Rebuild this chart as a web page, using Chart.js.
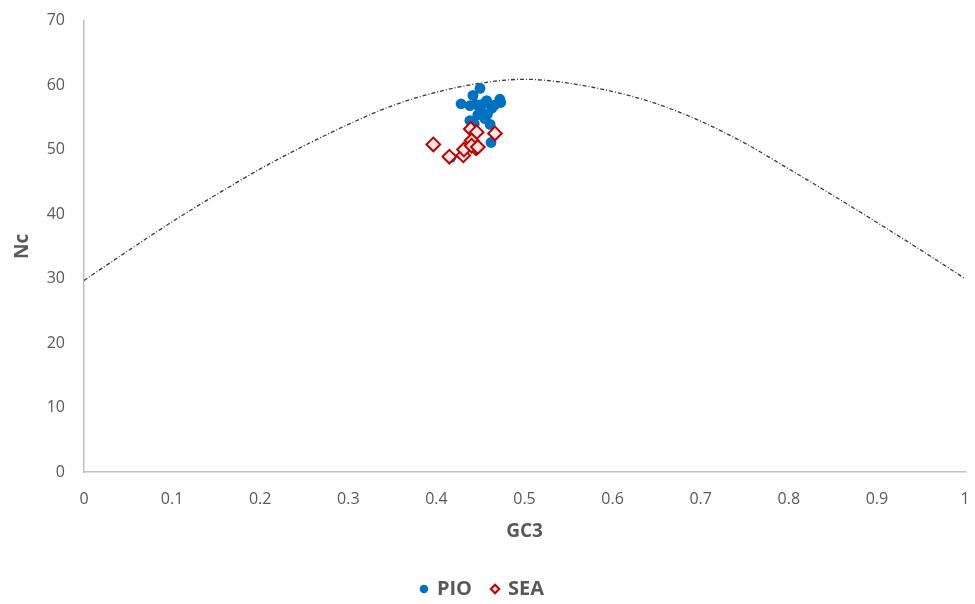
<!DOCTYPE html>
<html>
<head>
<meta charset="utf-8">
<script src="https://cdn.jsdelivr.net/npm/chart.js@4/dist/chart.umd.min.js"></script>
<style>
  html, body { margin: 0; padding: 0; background: #ffffff; }
  #wrap { width: 975px; height: 604px; }
</style>
</head>
<body>
<div id="wrap"><canvas id="chart" width="975" height="604"></canvas></div>
<script>
// GC3 (x) vs Nc (y) for each sample
const pioGC3 = [0.4495, 0.428, 0.472, 0.473, 0.438, 0.4415, 0.457, 0.452, 0.463, 0.447,
                0.458, 0.466, 0.438, 0.443, 0.461, 0.455, 0.462, 0.4165, 0.450, 0.445];
const pioNc  = [59.5, 57.1, 57.8, 57.3, 56.8, 58.4, 57.6, 57.0, 56.4, 55.4,
                55.5, 56.9, 54.5, 54.0, 53.9, 54.8, 51.1, 48.8, 56.0, 57.0];

const seaGC3 = [0.3965, 0.4147, 0.4305, 0.4313, 0.439, 0.4457, 0.440, 0.445, 0.440, 0.4665, 0.447];
const seaNc  = [50.8, 48.9, 49.1, 50.0, 53.2, 52.7, 51.4, 50.2, 50.6, 52.5, 50.4];

// Expected Nc curve, sampled along GC3
const curveGC3 = [0, 0.05, 0.1, 0.15, 0.2, 0.25, 0.3, 0.35, 0.4, 0.45, 0.5,
                  0.55, 0.6, 0.65, 0.7, 0.75, 0.8, 0.85, 0.9, 0.95, 1];
const curveNc  = [29.7, 34.3, 38.8, 43.0, 47.0, 50.6, 53.9, 56.8, 58.9, 60.3, 60.9,
                  60.3, 59.0, 57.1, 54.4, 51.0, 47.0, 42.9, 38.7, 34.4, 30.0];

const xTicks = [0, 0.1, 0.2, 0.3, 0.4, 0.5, 0.6, 0.7, 0.8, 0.9, 1];
const yTicks = [0, 10, 20, 30, 40, 50, 60, 70];

const pair = (xs, ys) => xs.map((x, i) => ({ x: x, y: ys[i] }));

const axisGrey = '#595959';
const fontFamily = '"Open Sans", "Liberation Sans", sans-serif';

new Chart(document.getElementById('chart'), {
  type: 'scatter',
  data: {
    datasets: [
      {
        label: 'PIO',
        data: pair(pioGC3, pioNc),
        pointStyle: 'circle',
        pointRadius: 5.4,
        pointHoverRadius: 5.4,
        backgroundColor: '#0070C0',
        borderColor: '#0070C0',
        borderWidth: 0,
        order: 2
      },
      {
        label: 'SEA',
        data: pair(seaGC3, seaNc),
        pointStyle: 'rectRot',
        pointRadius: 6.8,
        pointHoverRadius: 6.8,
        backgroundColor: '#fbe6e6',
        borderColor: '#C00000',
        borderWidth: 2,
        order: 1
      },
      {
        label: 'expected',
        type: 'line',
        data: pair(curveGC3, curveNc),
        showLine: true,
        tension: 0.4,
        cubicInterpolationMode: 'monotone',
        pointRadius: 0,
        borderColor: '#3a3a3a',
        borderWidth: 1.3,
        borderDash: [4, 2, 1, 2],
        fill: false,
        order: 3
      }
    ]
  },
  options: {
    responsive: false,
    animation: false,
    layout: { autoPadding: false, padding: { top: 18, right: 10, left: 0, bottom: -5 } },
    plugins: {
      tooltip: { enabled: false },
      legend: {
        position: 'bottom',
        labels: {
          filter: (item) => item.text !== 'expected',
          sort: (a, b) => a.datasetIndex - b.datasetIndex,
          usePointStyle: true,
          boxWidth: 6,
          boxHeight: 6,
          padding: 20,
          color: axisGrey,
          font: { family: fontFamily, size: 20, weight: 'bold' }
        }
      }
    },
    scales: {
      x: {
        type: 'linear',
        min: 0,
        max: 1,
        afterBuildTicks: (scale) => { scale.ticks = xTicks.map(v => ({ value: v })); },
        afterFit: (scale) => {
          scale.height = 87;
          scale.paddingLeft = 0;
          scale.paddingRight = 0;
        },
        grid: { display: false },
        border: { display: true, color: '#bfbfbf', width: 1.5 },
        ticks: {
          padding: 10,
          color: axisGrey,
          font: { family: fontFamily, size: 16 },
          callback: (v) => String(v)
        },
        title: {
          display: true,
          text: 'GC3',
          color: axisGrey,
          font: { family: fontFamily, size: 19, weight: 'bold' },
          padding: { top: 4, bottom: 16 }
        }
      },
      y: {
        type: 'linear',
        min: 0,
        max: 70,
        afterBuildTicks: (scale) => { scale.ticks = yTicks.map(v => ({ value: v })); },
        afterFit: (scale) => { scale.width = 84; },
        grid: { display: false },
        border: { display: true, color: '#bfbfbf', width: 1.5 },
        ticks: {
          padding: 11,
          color: axisGrey,
          font: { family: fontFamily, size: 16 },
          callback: (v) => String(v)
        },
        title: {
          display: true,
          text: 'Nc',
          color: axisGrey,
          font: { family: fontFamily, size: 19, weight: 'bold' },
          padding: { top: 11, bottom: 0 }
        }
      }
    }
  }
});
</script>
</body>
</html>
